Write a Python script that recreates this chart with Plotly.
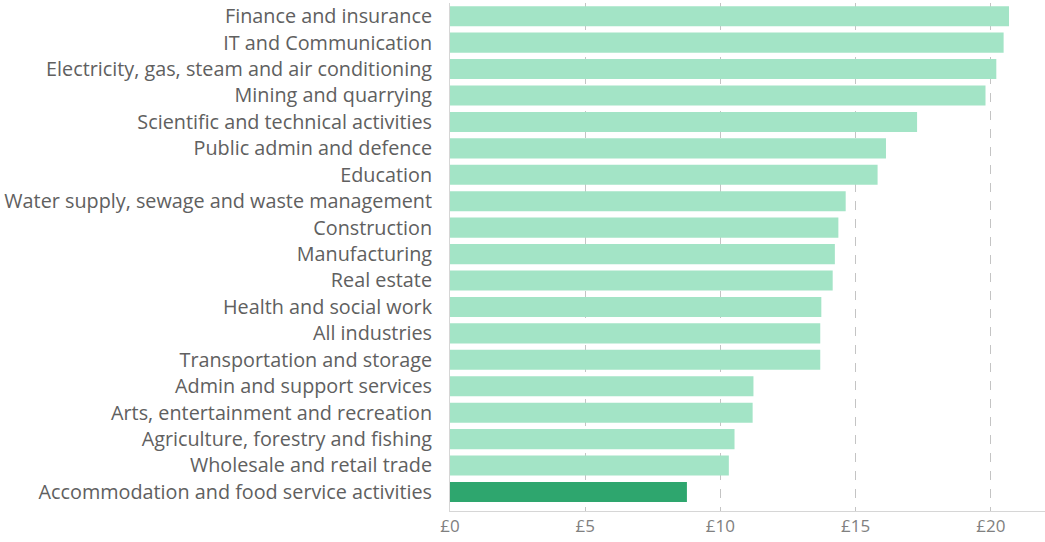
import plotly.graph_objects as go

industries = [
    "Finance and insurance",
    "IT and Communication",
    "Electricity, gas, steam and air conditioning",
    "Mining and quarrying",
    "Scientific and technical activities",
    "Public admin and defence",
    "Education",
    "Water supply, sewage and waste management",
    "Construction",
    "Manufacturing",
    "Real estate",
    "Health and social work",
    "All industries",
    "Transportation and storage",
    "Admin and support services",
    "Arts, entertainment and recreation",
    "Agriculture, forestry and fishing",
    "Wholesale and retail trade",
    "Accommodation and food service activities",
]
hourly_pay = [20.67, 20.47, 20.2, 19.8, 17.27, 16.12, 15.81, 14.63, 14.36, 14.23,
              14.15, 13.73, 13.69, 13.69, 11.22, 11.19, 10.52, 10.31, 8.76]
highlight = "Accommodation and food service activities"

x_ticks = [0, 5, 10, 15, 20]
x_tick_labels = ["£0", "£5", "£10", "£15", "£20"]

colors = ["#2ea66e" if c == highlight else "#a3e4c6" for c in industries]

fig = go.Figure(go.Bar(
    x=hourly_pay, y=industries, orientation="h",
    marker=dict(color=colors, line=dict(width=0)),
    width=0.76,
))

fig.update_layout(
    width=1045, height=542,
    margin=dict(l=450, r=0, t=3, b=31, autoexpand=False),
    paper_bgcolor="white", plot_bgcolor="white",
    font=dict(family="Open Sans", color="#5f5f5f"),
    showlegend=False,
)
fig.update_xaxes(
    range=[0, 22], tickvals=x_ticks, ticktext=x_tick_labels,
    showgrid=True, gridcolor="#c4c4c4", griddash="dash", gridwidth=1,
    zeroline=False, showline=True, linecolor="#d6d6d6", linewidth=1,
    tickfont=dict(size=17, color="#808080"), ticks="", automargin=False,
)
fig.update_yaxes(
    categoryorder="array", categoryarray=industries,
    range=[18.72, -0.5], showgrid=False, zeroline=False,
    showline=True, linecolor="#d6d6d6", linewidth=1,
    tickfont=dict(size=19.8, color="#606060"), ticks="",
    ticklabelstandoff=13, automargin=False,
)

fig.write_html("out.html", config={"displayModeBar": False},
               post_script="document.body.style.margin='0';")
